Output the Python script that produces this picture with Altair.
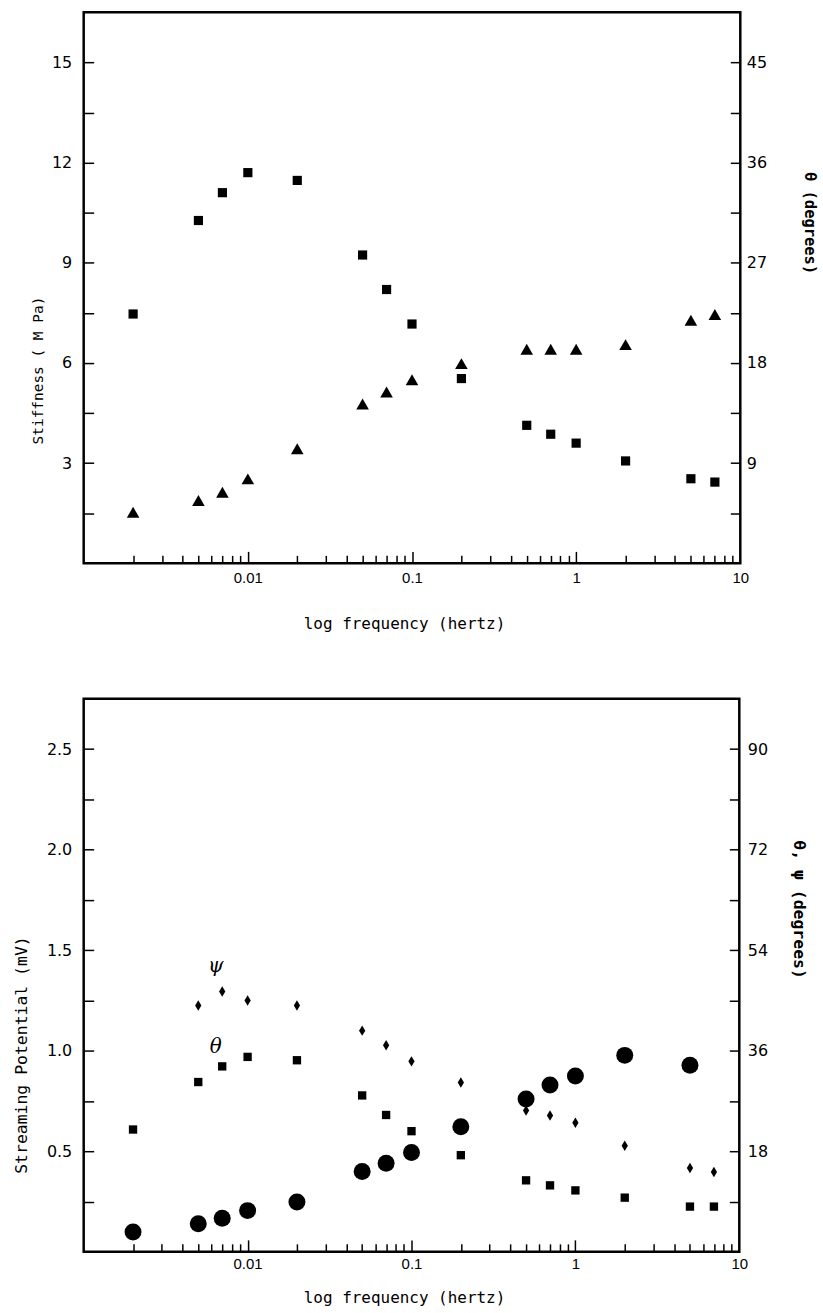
import altair as alt
import pandas as pd

# ---------------- data ----------------
freq = [0.002, 0.005, 0.007, 0.01, 0.02, 0.05, 0.07, 0.1, 0.2, 0.5, 0.7, 1, 2, 5, 7]

# top panel
stiffness_mpa = [1.53, 1.88, 2.13, 2.53, 3.43, 4.77, 5.13, 5.50, 5.98, 6.41, 6.41, 6.41, 6.55, 7.28, 7.45]
theta_top_deg = [22.4, 30.8, 33.3, 35.1, 34.4, 27.7, 24.6, 21.5, 16.6, 12.4, 11.6, 10.8, 9.2, 7.6, 7.3]

# bottom panel
freq_sp = [0.002, 0.005, 0.007, 0.01, 0.02, 0.05, 0.07, 0.1, 0.2, 0.5, 0.7, 1, 2, 5]
streaming_mv = [0.099, 0.14, 0.167, 0.205, 0.248, 0.40, 0.44, 0.494, 0.622, 0.76, 0.83, 0.874, 0.977, 0.928]
theta_bot_deg = [21.9, 30.4, 33.2, 34.9, 34.3, 28.0, 24.5, 21.6, 17.3, 12.8, 11.9, 11.0, 9.7, 8.1, 8.1]
freq_psi = [0.005, 0.007, 0.01, 0.02, 0.05, 0.07, 0.1, 0.2, 0.5, 0.7, 1, 2, 5, 7]
psi_deg = [44.1, 46.6, 45.0, 44.1, 39.6, 37.0, 34.1, 30.3, 25.3, 24.4, 23.1, 19.0, 15.0, 14.3]

annot_text = ["\u03c8", "\u03b8"]
annot_freq = [0.0064, 0.0064]
annot_mv = [1.42, 1.02]

# axis tick values
x_label_values = [0.01, 0.1, 1, 10]
x_major_ticks = [0.01, 0.1, 1]
x_minor_ticks = [m * 10.0 ** e for e in (-3, -2, -1, 0) for m in range(2, 10)]
stiff_labels = [3, 6, 9, 12, 15]
stiff_ticks = [1.5 * k for k in range(1, 11)]
theta_top_labels = [9, 18, 27, 36, 45]
theta_top_ticks = [4.5 * k for k in range(1, 11)]
mv_labels = [0.5, 1.0, 1.5, 2.0, 2.5]
mv_ticks = [0.25 * k for k in range(1, 11)]
deg_bot_labels = [18, 36, 54, 72, 90]
deg_bot_ticks = [9 * k for k in range(1, 11)]

# ---------------- layout constants ----------------
W1, H1 = 659, 553
W2, H2 = 658, 555
FONT = "Liberation Sans"
LFONT = "DejaVu Sans"
TFONT = "DejaVu Sans Mono"
XDOM = [0.001, 10]
DIAMOND = "M0,-1L0.6,0L0,1L-0.6,0Z"


def xs():
    return alt.Scale(type="log", domain=XDOM, nice=False)


def ys(dom):
    return alt.Scale(domain=dom, nice=False, zero=False)


def x_label_axis(title, tdy, lpad):
    return alt.Axis(orient="bottom", values=x_label_values, format="~g", ticks=False,
                    domain=False, grid=False, labelPadding=lpad, labelFontSize=15, labelFont=FONT,
                    labelColor="black", labelFlush=False, labelOverlap=False, labelBound=False,
                    title=title, titleFont=TFONT, titleFontSize=16, titleFontWeight="normal",
                    titleColor="black", titleX=W1 / 2 - 8, titleY=tdy, titleBaseline="middle",
                    titleAlign="center")


def x_tick_axis(values, size, H):
    return alt.Axis(orient="top", offset=-H, values=values, labels=False, domain=False,
                    grid=False, ticks=True, tickSize=size, tickWidth=1.5, tickColor="black",
                    title=None)


def y_label_axis(orient, values, fmt, title, tx, ty, angle, pad, tsize):
    return alt.Axis(orient=orient, values=values, format=fmt, ticks=False, domain=False,
                    grid=False, labelPadding=pad, labelFontSize=16, labelFont=LFONT,
                    labelColor="black", labelOverlap=False, labelFlush=False, labelBound=False,
                    title=title, titleFont=TFONT, titleFontSize=tsize,
                    titleFontWeight="bold" if orient == "right" else "normal",
                    titleColor="black", titleX=tx, titleY=ty, titleAngle=angle,
                    titleAlign="center", titleBaseline="middle")


def y_tick_axis(orient, values, W):
    return alt.Axis(orient=orient, offset=-W, values=values, labels=False, domain=False,
                    grid=False, ticks=True, tickSize=10, tickWidth=1.5, tickColor="black",
                    title=None)


# ---------------- top panel ----------------
top_tri = pd.DataFrame({"freq": freq, "stiffness": stiffness_mpa})
top_sq = pd.DataFrame({"freq": freq, "theta": theta_top_deg})
SD = [0, 16.5]
TD = [0, 49.5]

t1 = alt.Chart(top_tri).mark_point(shape="triangle-up", filled=True, size=160, color="black", opacity=1).encode(
    x=alt.X("freq:Q", scale=xs(), axis=x_label_axis("log frequency (hertz)", 60, 7)),
    y=alt.Y("stiffness:Q", scale=ys(SD),
            axis=y_label_axis("left", stiff_labels, "d", "Stiffness ( M Pa)", -45, 359, -90, 12, 14.5)),
)
t2 = alt.Chart(top_sq).mark_point(shape="square", filled=True, size=85, color="black", opacity=1).encode(
    x=alt.X("freq:Q", scale=xs(), axis=x_tick_axis(x_major_ticks, 12, H1)),
    y=alt.Y("theta:Q", scale=ys(TD),
            axis=y_label_axis("right", theta_top_labels, "d", "\u03b8   (degrees)", 69, 211, 90, 6, 15.5)),
)
t3 = alt.Chart(top_tri).mark_point(opacity=0).encode(
    x=alt.X("freq:Q", scale=xs(), axis=x_tick_axis(x_minor_ticks, 8, H1)),
    y=alt.Y("stiffness:Q", scale=ys(SD), axis=y_tick_axis("right", stiff_ticks, W1)),
)
t4 = alt.Chart(top_sq).mark_point(opacity=0).encode(
    x=alt.X("freq:Q", scale=xs(), axis=None),
    y=alt.Y("theta:Q", scale=ys(TD), axis=y_tick_axis("left", theta_top_ticks, W1)),
)
top = alt.layer(t1, t2, t3, t4).resolve_scale(x="independent", y="independent").properties(
    width=W1, height=H1)

# ---------------- bottom panel ----------------
b_sp = pd.DataFrame({"freq": freq_sp, "mv": streaming_mv})
b_th = pd.DataFrame({"freq": freq, "deg": theta_bot_deg})
b_psi = pd.DataFrame({"freq": freq_psi, "deg": psi_deg})
b_ann = pd.DataFrame({"freq": annot_freq, "mv": annot_mv, "txt": annot_text})
MD = [0, 2.75]
DD = [0, 99]

b1 = alt.Chart(b_sp).mark_point(shape="circle", filled=True, size=290, color="black", opacity=1).encode(
    x=alt.X("freq:Q", scale=xs(), axis=x_label_axis("log frequency (hertz)", 46, 5)),
    y=alt.Y("mv:Q", scale=ys(MD),
            axis=y_label_axis("left", mv_labels, ".1f", "Streaming Potential (mV)", -62, 357, -90, 12, 16.5)),
)
b2 = alt.Chart(b_th).mark_point(shape="square", filled=True, size=70, color="black", opacity=1).encode(
    x=alt.X("freq:Q", scale=xs(), axis=x_tick_axis(x_major_ticks, 12, H2)),
    y=alt.Y("deg:Q", scale=ys(DD),
            axis=y_label_axis("right", deg_bot_labels, "d", "\u03b8, \u03c8 (degrees)", 59, 211, 90, 8, 16.5)),
)
b3 = alt.Chart(b_psi).mark_point(shape=DIAMOND, filled=True, size=110, color="black", opacity=1).encode(
    x=alt.X("freq:Q", scale=xs(), axis=x_tick_axis(x_minor_ticks, 8, H2)),
    y=alt.Y("deg:Q", scale=ys(DD), axis=y_tick_axis("left", deg_bot_ticks, W2)),
)
b4 = alt.Chart(b_sp).mark_point(opacity=0).encode(
    x=alt.X("freq:Q", scale=xs(), axis=None),
    y=alt.Y("mv:Q", scale=ys(MD), axis=y_tick_axis("right", mv_ticks, W2)),
)
b5 = alt.Chart(b_ann).mark_text(font="DejaVu Serif", fontSize=20, fontStyle="italic", color="black").encode(
    x=alt.X("freq:Q", scale=xs(), axis=None),
    y=alt.Y("mv:Q", scale=ys(MD), axis=None),
    text="txt:N",
)
bottom = alt.layer(b1, b2, b3, b4, b5).resolve_scale(x="independent", y="independent").properties(
    width=W2, height=H2)

chart = alt.vconcat(top, bottom, spacing=136, bounds="flush").properties(
    padding={"left": 12, "top": 8, "right": 5, "bottom": 5},
    background="white",
).configure_view(stroke="black", strokeWidth=2.5)

chart.save("out.html", embed_options={"renderer": "svg", "actions": False})
